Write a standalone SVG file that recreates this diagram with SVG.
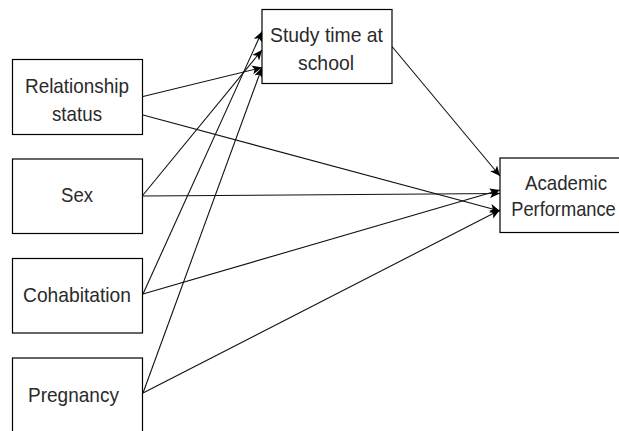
<svg xmlns="http://www.w3.org/2000/svg" width="619" height="431" viewBox="0 0 619 431">
<style>
.box{fill:#fff;stroke:#000;stroke-width:1.2}
.lbl{font-family:"Liberation Sans",Arial,sans-serif;font-size:21px;fill:#2a2a2a;text-anchor:middle}
.edge{fill:none;stroke:#111;stroke-width:1.1}
</style>
<defs>
<marker id="arr" markerUnits="userSpaceOnUse" markerWidth="12" markerHeight="10" refX="10" refY="4.5" orient="auto">
<path d="M0,0 L10,4.5 L0,9 L2.5,4.5 Z" fill="#000"/>
</marker>
</defs>
<rect width="619" height="431" fill="#fff"/>
<g id="connectors">
<path class="edge" d="M143,96.5 L262,67.5" marker-end="url(#arr)"/>
<path class="edge" d="M143,195 L262,50" marker-end="url(#arr)"/>
<path class="edge" d="M143,294 L262,31.5" marker-end="url(#arr)"/>
<path class="edge" d="M143,393 L262,67.5" marker-end="url(#arr)"/>
<path class="edge" d="M392,46.5 L500,176" marker-end="url(#arr)"/>
<path class="edge" d="M143,115 L500,211" marker-end="url(#arr)"/>
<path class="edge" d="M143,196 L500,193.5" marker-end="url(#arr)"/>
<path class="edge" d="M143,294 L500,190" marker-end="url(#arr)"/>
<path class="edge" d="M143,393 L500,210" marker-end="url(#arr)"/>
</g>
<g id="relationship">
<rect class="box" x="12.5" y="59.5" width="130" height="75"/>
<text class="lbl" x="77" y="93" textLength="104" lengthAdjust="spacingAndGlyphs">Relationship</text>
<text class="lbl" x="77" y="121" textLength="50" lengthAdjust="spacingAndGlyphs">status</text>
</g>
<g id="sex">
<rect class="box" x="12.5" y="159" width="130" height="74.5"/>
<text class="lbl" x="77" y="202" textLength="32" lengthAdjust="spacingAndGlyphs">Sex</text>
</g>
<g id="cohabitation">
<rect class="box" x="12.5" y="258.5" width="130" height="74.5"/>
<text class="lbl" x="77" y="302" textLength="108" lengthAdjust="spacingAndGlyphs">Cohabitation</text>
</g>
<g id="pregnancy">
<rect class="box" x="12.5" y="358" width="130" height="75"/>
<text class="lbl" x="73.5" y="402" textLength="91" lengthAdjust="spacingAndGlyphs">Pregnancy</text>
</g>
<g id="study">
<rect class="box" x="262" y="9.5" width="130" height="74"/>
<text class="lbl" x="326.5" y="42" textLength="113" lengthAdjust="spacingAndGlyphs">Study time at</text>
<text class="lbl" x="326" y="70" textLength="56" lengthAdjust="spacingAndGlyphs">school</text>
</g>
<g id="academic">
<rect class="box" x="500" y="158" width="130" height="74.5"/>
<text class="lbl" x="566" y="190" textLength="82" lengthAdjust="spacingAndGlyphs">Academic</text>
<text class="lbl" transform="translate(563.5,216) scale(0.87,1)" x="0" y="0">Performance</text>
</g>
</svg>
